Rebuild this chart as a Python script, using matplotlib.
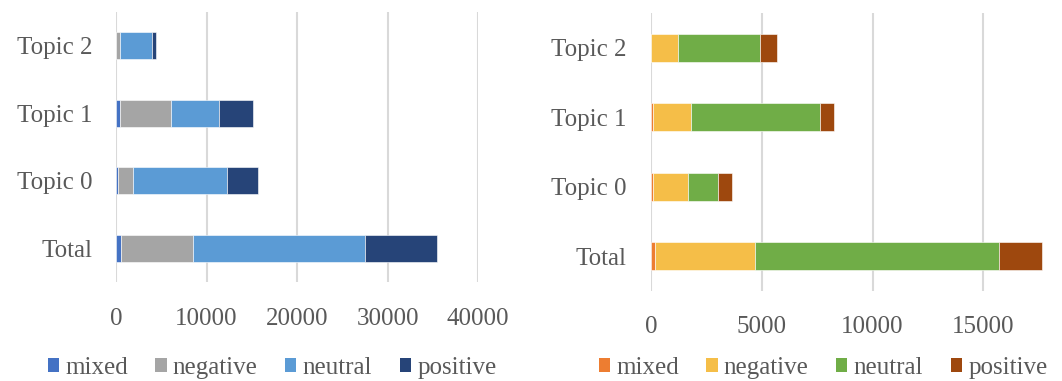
import matplotlib.pyplot as plt
from matplotlib.patches import Patch

plt.rcParams['font.family'] = ['Liberation Serif', 'DejaVu Serif']

categories = ["Total", "Topic 0", "Topic 1", "Topic 2"]
sentiments = ["mixed", "negative", "neutral", "positive"]

# left panel counts, one list per sentiment (order follows categories)
left_mixed = [550, 200, 400, 50]
left_negative = [7930, 1700, 5680, 350]
left_neutral = [19030, 10320, 5270, 3540]
left_positive = [7920, 3500, 3830, 520]

# right panel counts
right_mixed = [180, 100, 100, 20]
right_negative = [4530, 1560, 1710, 1200]
right_neutral = [11010, 1380, 5840, 3700]
right_positive = [1930, 620, 620, 770]

left_ticks = [0, 10000, 20000, 30000, 40000]
right_ticks = [0, 5000, 10000, 15000]

left_colors = ["#4472C4", "#A5A5A5", "#5B9BD5", "#264478"]
right_colors = ["#ED7D31", "#F5BE48", "#70AD47", "#9E480E"]

text_color = "#595959"
grid_color = "#D9D9D9"

W, H = 1062, 381
fig = plt.figure(figsize=(W / 100, H / 100), dpi=100)


def px_axes(x0, y0, x1, y1):
    return fig.add_axes([x0 / W, 1 - y1 / H, (x1 - x0) / W, (y1 - y0) / H])


def stacked(ax, series, colors, ticks, xmax, label_pad, tick_pad):
    left = [0] * len(categories)
    for vals, c in zip(series, colors):
        ax.barh(categories, vals, left=left, height=0.4, color=c,
                edgecolor="white", linewidth=0.4, zorder=3)
        left = [a + b for a, b in zip(left, vals)]
    ax.set_xlim(0, xmax)
    ax.set_ylim(-0.5, 3.5)
    ax.set_xticks(ticks)
    ax.grid(axis="x", color=grid_color, linewidth=1.5, zorder=0)
    for s in ax.spines.values():
        s.set_visible(False)
    ax.tick_params(axis="y", length=0, pad=label_pad, labelsize=18, labelcolor=text_color)
    ax.tick_params(axis="x", length=0, pad=tick_pad, labelsize=18, labelcolor=text_color)


ax1 = px_axes(116, 12, 478, 282)
stacked(ax1, [left_mixed, left_negative, left_neutral, left_positive],
        left_colors, left_ticks, 40000, 17, 19)

# right panel runs off the edge: its axis stops short of the next gridline
ax2 = px_axes(651, 13, 1062, 291)
stacked(ax2, [right_mixed, right_negative, right_neutral, right_positive],
        right_colors, right_ticks, 18550, 17.5, 18)

for colors, cx in [(left_colors, 272), (right_colors, 823)]:
    handles = [Patch(facecolor=c, edgecolor="none") for c in colors]
    fig.legend(handles, sentiments, loc="center", bbox_to_anchor=(cx / W, 1 - 368 / H),
               ncol=4, frameon=False, fontsize=18, labelcolor=text_color,
               handlelength=0.45, handleheight=0.45, handletextpad=0.25,
               columnspacing=1.1)

fig.savefig("out.png", dpi=100)
